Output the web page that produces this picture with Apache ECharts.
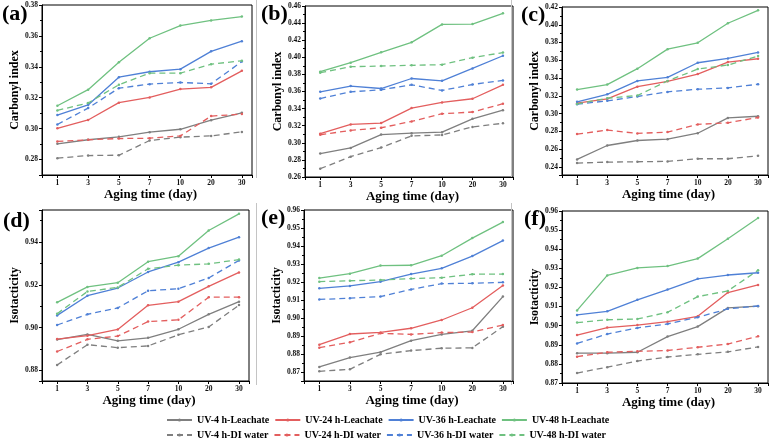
<!DOCTYPE html>
<html><head><meta charset="utf-8">
<script src="https://cdn.jsdelivr.net/npm/echarts@6/dist/echarts.min.js"></script>
<style>html,body{margin:0;padding:0;background:#fff}#c{width:776px;height:441px}</style>
</head><body><div id="c"></div><script>
// ---------- data ----------
const DAYS = ['1', '3', '5', '7', '10', '20', '30'];
const NAMES = ['UV-4 h-Leachate', 'UV-24 h-Leachate', 'UV-36 h-Leachate', 'UV-48 h-Leachate',
               'UV-4 h-DI water', 'UV-24 h-DI water', 'UV-36 h-DI water', 'UV-48 h-DI water'];
const Y_NAMES = ['Carbonyl index', 'Carbonyl index', 'Carbonyl index', 'Isotacticity', 'Isotacticity', 'Isotacticity'];
const PANEL_LABELS = ['(a)', '(b)', '(c)', '(d)', '(e)', '(f)'];

// (a) carbonyl index
const A_UV4_L  = [0.2902, 0.2928, 0.2947, 0.2977, 0.2996, 0.3055, 0.3102];
const A_UV24_L = [0.3002, 0.3056, 0.3168, 0.3202, 0.3256, 0.3267, 0.3374];
const A_UV36_L = [0.3088, 0.3153, 0.3333, 0.3368, 0.3385, 0.3500, 0.3566];
const A_UV48_L = [0.3148, 0.3252, 0.3430, 0.3585, 0.3667, 0.3700, 0.3725];
const A_UV4_W  = [0.2809, 0.2826, 0.2828, 0.2923, 0.2945, 0.2953, 0.2979];
const A_UV24_W = [0.2917, 0.2928, 0.2936, 0.2938, 0.2953, 0.3081, 0.3094];
const A_UV36_W = [0.3027, 0.3133, 0.3262, 0.3288, 0.3299, 0.3290, 0.3434];
const A_UV48_W = [0.3118, 0.3166, 0.3284, 0.3359, 0.3359, 0.3417, 0.3439];
// (b) carbonyl index
const B_UV4_L  = [0.2874, 0.2940, 0.3096, 0.3112, 0.3124, 0.3280, 0.3381];
const B_UV24_L = [0.3106, 0.3215, 0.3231, 0.3406, 0.3472, 0.3515, 0.3678];
const B_UV36_L = [0.3596, 0.3663, 0.3635, 0.3752, 0.3725, 0.3870, 0.4018];
const B_UV48_L = [0.3832, 0.3937, 0.4058, 0.4175, 0.4385, 0.4389, 0.4514];
const B_UV4_W  = [0.2697, 0.2838, 0.2944, 0.3081, 0.3092, 0.3186, 0.3228];
const B_UV24_W = [0.3094, 0.3145, 0.3176, 0.3250, 0.3340, 0.3360, 0.3457];
const B_UV36_W = [0.3518, 0.3596, 0.3620, 0.3678, 0.3612, 0.3682, 0.3730];
const B_UV48_W = [0.3820, 0.3890, 0.3898, 0.3906, 0.3914, 0.3996, 0.4055];
// (c) carbonyl index
const C_UV4_L  = [0.2485, 0.2642, 0.2698, 0.2713, 0.2780, 0.2952, 0.2971];
const C_UV24_L = [0.3118, 0.3166, 0.3304, 0.3364, 0.3446, 0.3580, 0.3618];
const C_UV36_L = [0.3133, 0.3218, 0.3368, 0.3409, 0.3573, 0.3621, 0.3689];
const C_UV48_L = [0.3271, 0.3327, 0.3506, 0.3726, 0.3797, 0.4017, 0.4163];
const C_UV4_W  = [0.2444, 0.2455, 0.2459, 0.2463, 0.2493, 0.2493, 0.2526];
const C_UV24_W = [0.2770, 0.2815, 0.2778, 0.2793, 0.2879, 0.2897, 0.2957];
const C_UV36_W = [0.3107, 0.3144, 0.3193, 0.3245, 0.3275, 0.3290, 0.3331];
const C_UV48_W = [0.3110, 0.3174, 0.3204, 0.3368, 0.3502, 0.3547, 0.3648];
// (d) isotacticity
const D_UV4_L  = [0.8944, 0.8968, 0.8938, 0.8952, 0.8992, 0.9062, 0.9121];
const D_UV24_L = [0.8946, 0.8962, 0.8991, 0.9104, 0.9121, 0.9193, 0.9258];
const D_UV36_L = [0.9057, 0.9149, 0.9185, 0.9260, 0.9306, 0.9372, 0.9423];
const D_UV48_L = [0.9118, 0.9190, 0.9210, 0.9308, 0.9334, 0.9454, 0.9532];
const D_UV4_W  = [0.8825, 0.8920, 0.8906, 0.8914, 0.8966, 0.9003, 0.9105];
const D_UV24_W = [0.8888, 0.8945, 0.8960, 0.9028, 0.9036, 0.9142, 0.9142];
const D_UV36_W = [0.9012, 0.9062, 0.9092, 0.9172, 0.9182, 0.9232, 0.9314];
const D_UV48_W = [0.9065, 0.9169, 0.9188, 0.9275, 0.9292, 0.9298, 0.9318];
// (e) isotacticity
const E_UV4_L  = [0.8728, 0.8780, 0.8810, 0.8874, 0.8909, 0.8929, 0.9119];
const E_UV24_L = [0.8852, 0.8911, 0.8920, 0.8943, 0.8989, 0.9057, 0.9181];
const E_UV36_L = [0.9165, 0.9178, 0.9202, 0.9244, 0.9276, 0.9344, 0.9430];
const E_UV48_L = [0.9222, 0.9246, 0.9291, 0.9293, 0.9346, 0.9444, 0.9533];
const E_UV4_W  = [0.8704, 0.8715, 0.8798, 0.8819, 0.8832, 0.8834, 0.8952];
const E_UV24_W = [0.8835, 0.8865, 0.8915, 0.8909, 0.8919, 0.8922, 0.8961];
const E_UV36_W = [0.9103, 0.9110, 0.9119, 0.9159, 0.9191, 0.9193, 0.9198];
const E_UV48_W = [0.9202, 0.9207, 0.9211, 0.9219, 0.9224, 0.9243, 0.9244];
// (f) isotacticity
const F_UV4_L  = [0.8856, 0.8856, 0.8861, 0.8943, 0.8995, 0.9093, 0.9102];
const F_UV24_L = [0.8951, 0.8990, 0.9003, 0.9021, 0.9049, 0.9173, 0.9213];
const F_UV36_L = [0.9056, 0.9075, 0.9135, 0.9189, 0.9245, 0.9265, 0.9277];
const F_UV48_L = [0.9080, 0.9263, 0.9302, 0.9312, 0.9351, 0.9455, 0.9563];
const F_UV4_W  = [0.8752, 0.8783, 0.8815, 0.8836, 0.8850, 0.8863, 0.8889];
const F_UV24_W = [0.8838, 0.8861, 0.8866, 0.8870, 0.8887, 0.8904, 0.8944];
const F_UV36_W = [0.8907, 0.8956, 0.8988, 0.9009, 0.9044, 0.9088, 0.9103];
const F_UV48_W = [0.9016, 0.9031, 0.9035, 0.9070, 0.9152, 0.9182, 0.9290];

const PANEL_DATA = [
  [A_UV4_L, A_UV24_L, A_UV36_L, A_UV48_L, A_UV4_W, A_UV24_W, A_UV36_W, A_UV48_W],
  [B_UV4_L, B_UV24_L, B_UV36_L, B_UV48_L, B_UV4_W, B_UV24_W, B_UV36_W, B_UV48_W],
  [C_UV4_L, C_UV24_L, C_UV36_L, C_UV48_L, C_UV4_W, C_UV24_W, C_UV36_W, C_UV48_W],
  [D_UV4_L, D_UV24_L, D_UV36_L, D_UV48_L, D_UV4_W, D_UV24_W, D_UV36_W, D_UV48_W],
  [E_UV4_L, E_UV24_L, E_UV36_L, E_UV48_L, E_UV4_W, E_UV24_W, E_UV36_W, E_UV48_W],
  [F_UV4_L, F_UV24_L, F_UV36_L, F_UV48_L, F_UV4_W, F_UV24_W, F_UV36_W, F_UV48_W]
];

// ---------- layout / style ----------
const FONT = '"Liberation Serif", "Times New Roman", serif';
const COLORS = ['#7f7f7f', '#e35e5e', '#4f80d6', '#6fc180'];
const GRIDS = [
  {left: 42,  top: 5,   width: 210, height: 170},
  {left: 305, top: 6,   width: 208, height: 171},
  {left: 562, top: 7,   width: 206, height: 168},
  {left: 42,  top: 210, width: 207, height: 171},
  {left: 304, top: 210, width: 209, height: 171},
  {left: 562, top: 211, width: 206, height: 172}
];
const YAXES = [
  {min: 0.27,  max: 0.38,  splitNumber: 5, hideMin: true,  hideMax: false},
  {min: 0.26,  max: 0.46,  interval: 0.02, hideMin: false, hideMax: false},
  {min: 0.231, max: 0.42,  splitNumber: 9, hideMin: true,  hideMax: false},
  {min: 0.875, max: 0.955, splitNumber: 4, hideMin: true,  hideMax: true},
  {min: 0.865, max: 0.96,  splitNumber: 9, hideMin: true,  hideMax: false},
  {min: 0.87,  max: 0.96,  interval: 0.01, hideMin: false, hideMax: false}
];
const LABEL_POS = [
  {left: 2, top: 3}, {left: 261, top: 3}, {left: 521, top: 4},
  {left: 3, top: 210}, {left: 261, top: 207}, {left: 524, top: 208}
];

const axisLineStyle = {color: '#000', width: 1};
const tickFont = {fontFamily: FONT, fontWeight: 'bold', fontSize: 7.5, color: '#111'};

const grid = GRIDS.map(g => Object.assign({show: true, borderColor: '#000', borderWidth: 1, containLabel: false}, g));

const xAxis = GRIDS.map((g, i) => ({
  gridIndex: i, type: 'value', min: -0.5, max: 6.33, splitNumber: 7,
  axisLine: {show: true, onZero: false, lineStyle: axisLineStyle},
  axisTick: {show: true, inside: false, length: 3, lineStyle: axisLineStyle},
  splitLine: {show: false},
  axisLabel: Object.assign({
    margin: 4,
    formatter: v => (Number.isInteger(v) && v >= 0 && v < DAYS.length) ? DAYS[v] : ''
  }, tickFont),
  name: 'Aging time (day)', nameLocation: 'middle', nameGap: 13,
  nameTextStyle: {fontFamily: FONT, fontWeight: 'bold', fontSize: 13, color: '#000', padding: [0, 0, 0, 7]}
}));

const yAxis = YAXES.map((y, i) => {
  const ax = {
    gridIndex: i, type: 'value', min: y.min, max: y.max,
    axisLine: {show: true, onZero: false, lineStyle: axisLineStyle},
    axisTick: {show: true, inside: false, length: 3, lineStyle: axisLineStyle},
    minorTick: {show: true, splitNumber: 2, length: 2, lineStyle: axisLineStyle},
    splitLine: {show: false}, minorSplitLine: {show: false},
    axisLabel: Object.assign({
      margin: 4, showMinLabel: !y.hideMin, showMaxLabel: !y.hideMax,
      formatter: v => v.toFixed(2)
    }, tickFont),
    name: Y_NAMES[i], nameLocation: 'middle', nameGap: 21,
    nameTextStyle: {fontFamily: FONT, fontWeight: 'bold', fontSize: 12, color: '#000'}
  };
  if (y.interval) ax.interval = y.interval; else ax.splitNumber = y.splitNumber;
  return ax;
});

const series = [];
PANEL_DATA.forEach((panel, p) => {
  panel.forEach((vals, k) => {
    const color = COLORS[k % 4];
    series.push({
      type: 'line', name: NAMES[k], xAxisIndex: p, yAxisIndex: p,
      data: vals.map((v, i) => [i, v]),
      symbol: 'circle', symbolSize: 2.5, showSymbol: true,
      lineStyle: {color: color, width: 1.3, type: k >= 4 ? [6, 4] : 'solid'},
      itemStyle: {color: color},
      emphasis: {disabled: true}, animation: false, z: 2
    });
  });
});

const title = PANEL_LABELS.map((t, i) => ({
  text: t, left: LABEL_POS[i].left, top: LABEL_POS[i].top, padding: 0,
  textStyle: {fontFamily: FONT, fontWeight: 'bold', fontSize: 22, color: '#000'}
}));

const legendBase = {
  left: 166, itemWidth: 25, itemHeight: 4, itemGap: 5, padding: 0,
  textStyle: {fontFamily: FONT, fontWeight: 'bold', fontSize: 10, color: '#000'},
  selectedMode: false
};
const legend = [
  Object.assign({data: NAMES.slice(0, 4), top: 415}, legendBase),
  Object.assign({data: NAMES.slice(4), top: 430}, legendBase)
];

const sepStyle = {stroke: '#c4c4c4', lineWidth: 1};
const graphic = [
  {type: 'line', shape: {x1: 256.5, y1: 0, x2: 256.5, y2: 178}, style: sepStyle, silent: true},
  {type: 'line', shape: {x1: 511.5, y1: 0, x2: 511.5, y2: 178}, style: sepStyle, silent: true},
  {type: 'line', shape: {x1: 256.5, y1: 203, x2: 256.5, y2: 385}, style: sepStyle, silent: true},
  {type: 'line', shape: {x1: 511.5, y1: 203, x2: 511.5, y2: 385}, style: sepStyle, silent: true}
];

const chart = echarts.init(document.getElementById('c'), null, {renderer: 'canvas'});
chart.setOption({
  backgroundColor: '#fff', animation: false,
  title, legend, grid, xAxis, yAxis, series, graphic, tooltip: {show: false}
});
</script></body></html>
